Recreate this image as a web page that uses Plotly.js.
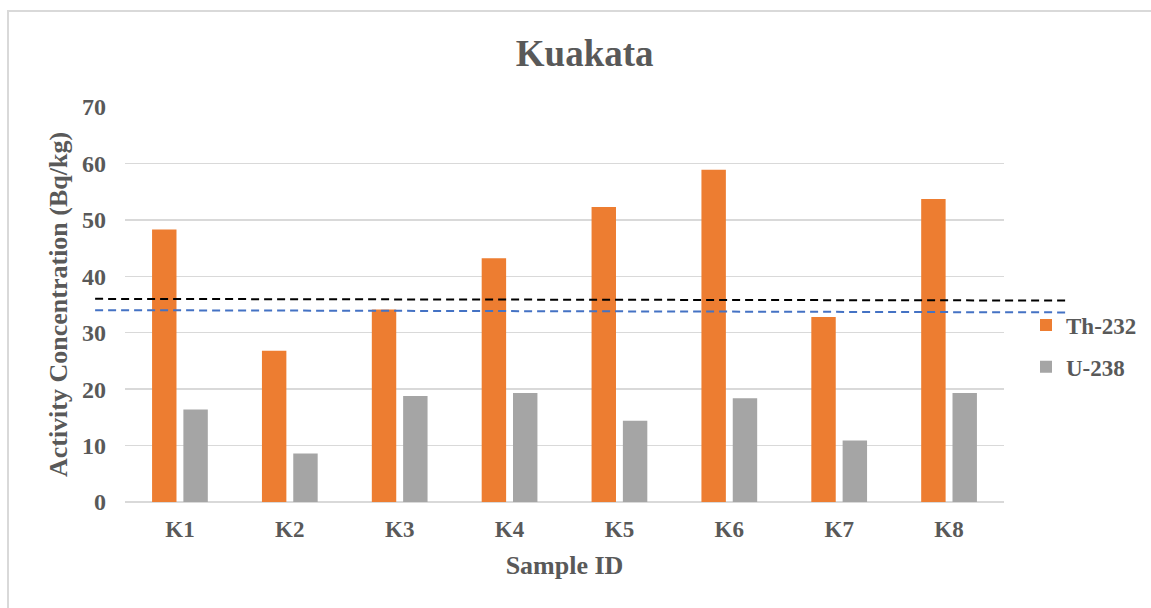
<!DOCTYPE html>
<html>
<head>
<meta charset="utf-8">
<script src="https://cdn.plot.ly/plotly-3.0.1.min.js"></script>
<style>
  html, body { margin: 0; padding: 0; background: #ffffff; overflow: hidden; }
  #frame {
    position: absolute; left: 7px; top: 10px; width: 1300px; height: 800px;
    border: 2px solid #d9d9d9; box-sizing: border-box;
  }
  #chart { position: absolute; left: 0; top: 0; width: 1151px; height: 608px; }
</style>
</head>
<body>
<div id="frame"></div>
<div id="chart"></div>
<script>
// Sample identifiers and measured activity concentrations (Bq/kg)
const samples = ["K1", "K2", "K3", "K4", "K5", "K6", "K7", "K8"];
const th232 = [48.3, 26.8, 34.1, 43.2, 52.3, 58.9, 32.8, 53.7];
const u238 = [16.4, 8.6, 18.8, 19.3, 14.4, 18.4, 10.9, 19.3];

// Reference levels drawn as dashed guide lines (start value, end value)
const refBlack = [36.0, 35.7];
const refBlue = [34.0, 33.6];

const yTicks = [0, 10, 20, 30, 40, 50, 60, 70];

const serif = "'Liberation Serif', 'Times New Roman', Times, serif";
const textGrey = "#595959";
const gridGrey = "#d9d9d9";

const traces = [
  {
    type: "bar", name: "Th-232", x: samples, y: th232,
    marker: { color: "#ED7D31" }, legendgroup: "th"
  },
  {
    type: "bar", name: "U-238", x: samples, y: u238,
    marker: { color: "#A5A5A5" }, legendgroup: "u"
  }
];

function guide(vals, color) {
  return {
    type: "line", xref: "paper", yref: "y",
    x0: -0.034, x1: 1.072, y0: vals[0], y1: vals[1],
    line: { color: color, width: 2, dash: "8px,5px" }, layer: "above"
  };
}

const layout = {
  width: 1151, height: 608,
  margin: { l: 125, r: 147, t: 107, b: 106, autoexpand: false },
  paper_bgcolor: "rgba(0,0,0,0)",
  plot_bgcolor: "rgba(0,0,0,0)",
  barmode: "group",
  bargap: 0.43,
  bargroupgap: 0.22,
  title: {
    text: "Kuakata",
    font: { family: serif, size: 37, color: textGrey, weight: 700 },
    xref: "container", x: 0.508, xanchor: "center",
    yref: "container", y: 1 - 53 / 608, yanchor: "middle"
  },
  xaxis: {
    type: "category", automargin: false,
    showgrid: false, showline: false, ticks: "",
    tickfont: { family: serif, size: 23, color: textGrey, weight: 700 },
    ticklabelstandoff: 11,
    title: {
      text: "Sample ID",
      font: { family: serif, size: 26, color: textGrey, weight: 700 },
      standoff: 14
    }
  },
  yaxis: {
    range: [0, 70], tickvals: yTicks, ticktext: yTicks.map(String),
    automargin: false,
    showgrid: true, gridcolor: gridGrey, gridwidth: 1.5,
    zeroline: true, zerolinecolor: gridGrey, zerolinewidth: 1.5,
    showline: false, ticks: "",
    tickfont: { family: serif, size: 24, color: textGrey, weight: 700 },
    ticklabelstandoff: 18,
    title: {
      text: "Activity Concentration (Bq/kg)",
      font: { family: serif, size: 26, color: textGrey, weight: 700 },
      standoff: 6
    }
  },
  legend: {
    xref: "container", x: 1026 / 1151, xanchor: "left",
    yref: "container", y: 1 - 346 / 608, yanchor: "middle",
    font: { family: serif, size: 23, color: textGrey, weight: 700 },
    traceorder: "grouped", tracegroupgap: 9,
    bgcolor: "rgba(0,0,0,0)"
  },
  shapes: [guide(refBlack, "#000000"), guide(refBlue, "#4472C4")]
};

Plotly.newPlot("chart", traces, layout, { displayModeBar: false, staticPlot: true });
</script>
</body>
</html>
